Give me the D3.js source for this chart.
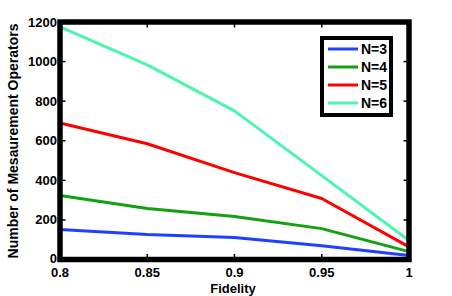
<!DOCTYPE html>
<html><head><meta charset="utf-8">
<script src="https://cdn.jsdelivr.net/npm/d3@7"></script>
<style>body{margin:0;background:#fff}text{font-family:"Liberation Sans",Arial,sans-serif;font-weight:bold}</style>
</head><body><svg id="c" width="452" height="296"></svg>
<script>
const fidelity = [0.8, 0.85, 0.9, 0.95, 1];
const seriesNames = ["N=3", "N=4", "N=5", "N=6"];
const n3 = [151, 126, 111, 70, 20];
const n4 = [323, 258, 217, 156, 40];
const n5 = [690, 585, 439, 308, 64];
const n6 = [1175, 983, 751, 424, 96];
const colors = ["#2040ff", "#13a013", "#ff0000", "#4cf5b0"];
const xTicks = [0.8, 0.85, 0.9, 0.95, 1];
const yTicks = [0, 200, 400, 600, 800, 1000, 1200];
const series = [n3, n4, n5, n6];

const svg = d3.select("#c");
const L = 60, R = 409, T = 22, B = 259.5;
const x = d3.scaleLinear().domain([0.8, 1]).range([L, R]);
const y = d3.scaleLinear().domain([0, 1200]).range([B, T]);

const line = d3.line().x((d, i) => x(fidelity[i])).y(d => y(d));
series.forEach((s, k) => {
  svg.append("path").datum(s).attr("d", line).attr("fill", "none")
    .attr("stroke", colors[k]).attr("stroke-width", 3).attr("stroke-linejoin", "round");
});

// frame
svg.append("rect").attr("x", L).attr("y", T).attr("width", R - L).attr("height", B - T)
  .attr("fill", "none").attr("stroke", "#000").attr("stroke-width", 5.5);

// ticks
const tickLen = 3;
xTicks.forEach(t => {
  svg.append("line").attr("x1", x(t)).attr("x2", x(t)).attr("y1", B).attr("y2", B - tickLen - 2.5).attr("stroke", "#000").attr("stroke-width", 1.5);
  svg.append("line").attr("x1", x(t)).attr("x2", x(t)).attr("y1", T).attr("y2", T + tickLen + 2.5).attr("stroke", "#000").attr("stroke-width", 1.5);
  svg.append("text").attr("x", x(t)).attr("y", 277).attr("text-anchor", "middle").attr("font-size", 13).text(d3.format("")(t));
});
yTicks.forEach(t => {
  svg.append("line").attr("x1", L).attr("x2", L + tickLen + 2.5).attr("y1", y(t)).attr("y2", y(t)).attr("stroke", "#000").attr("stroke-width", 1.5);
  svg.append("line").attr("x1", R).attr("x2", R - tickLen - 2.5).attr("y1", y(t)).attr("y2", y(t)).attr("stroke", "#000").attr("stroke-width", 1.5);
  svg.append("text").attr("x", 57).attr("y", y(t) + (t === 0 ? 3.5 : 4.5)).attr("text-anchor", "end").attr("font-size", 13).text(t);
});

svg.append("text").attr("x", 233).attr("y", 292.5).attr("text-anchor", "middle").attr("font-size", 13).text("Fidelity");
svg.append("text").attr("transform", "translate(17.5,141) rotate(-90)").attr("text-anchor", "middle").attr("font-size", 14).text("Number of Mesaurement Operators");

// legend
const lg = svg.append("g");
lg.append("rect").attr("x", 322).attr("y", 38).attr("width", 69).attr("height", 77)
  .attr("fill", "#fff").attr("stroke", "#000").attr("stroke-width", 4);
seriesNames.forEach((n, k) => {
  const yy = 49 + k * 18;
  lg.append("line").attr("x1", 328).attr("x2", 358).attr("y1", yy).attr("y2", yy).attr("stroke", colors[k]).attr("stroke-width", 3);
  lg.append("text").attr("x", 361).attr("y", yy + 5).attr("font-size", 14).text(n);
});
</script></body></html>
